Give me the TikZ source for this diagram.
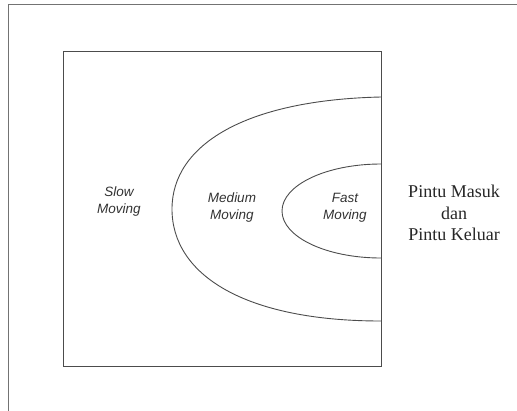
\documentclass[tikz,border=0pt]{standalone}
\usepackage{fontspec}
\setmainfont{Liberation Serif}
\newfontfamily\labelfont{Liberation Sans}
\usepackage{tikz}
\usetikzlibrary{calc}

\begin{document}
\begin{tikzpicture}[x=1pt, y=-1pt,
    zone/.style={draw=black!70, line width=0.9pt},
    zonelabel/.style={font=\labelfont\itshape\fontsize{13.5}{17}\selectfont, align=center, text=black!80, inner sep=0pt},
    doorlabel/.style={font=\fontsize{18}{21.5}\selectfont, align=center, text=black!85, inner sep=0pt}]
                \useasboundingbox (0,0) rectangle (517,410);
                % outer frame (cut at the right and bottom)
                \draw[black!55, line width=1pt] (8,412) -- (8,4) -- (519,4);
                \coordinate (A) at (63,51);
                \coordinate (B) at (381,366);
                \draw[zone] (A) rectangle (B);
                % medium zone
                \draw[zone] (381,97) .. controls (245,100) and (172,145) .. (172,209)
                    .. controls (172,275) and (245,321) .. (381,321);
                % fast zone
                \draw[zone] (381,164) arc[start angle=270, end angle=90, x radius=99, y radius=47];
                \node[zonelabel] (slow) at (119,202) {Slow\\Moving};
                \node[zonelabel] (medium) at (232,208) {Medium\\Moving};
                \node[zonelabel] (fast) at (345,208) {Fast\\Moving};
                \node[doorlabel] (door) at (454,213) {Pintu Masuk\\dan\\Pintu Keluar};
            \end{tikzpicture}
\end{document}
